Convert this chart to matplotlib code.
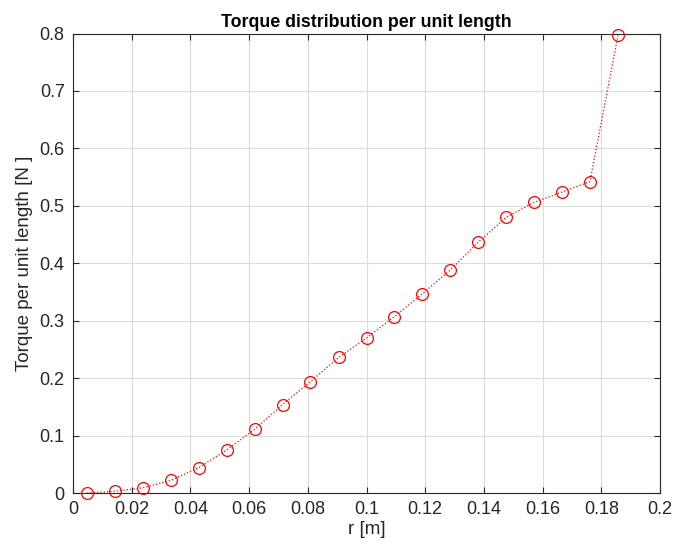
import numpy as np
import matplotlib
matplotlib.use('Agg')
import matplotlib.pyplot as plt

plt.rcParams['font.family'] = ['Liberation Sans', 'DejaVu Sans']

r = [0.0048, 0.0143, 0.0238, 0.0333, 0.0428, 0.0524, 0.0619, 0.0714, 0.0809, 0.0905,
     0.1000, 0.1095, 0.1190, 0.1285, 0.1381, 0.1476, 0.1571, 0.1666, 0.1761, 0.1857]
torque = [0.000, 0.003, 0.009, 0.022, 0.044, 0.075, 0.111, 0.154, 0.194, 0.236,
          0.270, 0.307, 0.347, 0.388, 0.437, 0.480, 0.506, 0.524, 0.542, 0.797]

xticks = np.arange(0, 0.201, 0.02)
yticks = np.arange(0, 0.801, 0.1)
xlabels = ['0', '0.02', '0.04', '0.06', '0.08', '0.1', '0.12', '0.14', '0.16', '0.18', '0.2']
ylabels = ['0', '0.1', '0.2', '0.3', '0.4', '0.5', '0.6', '0.7', '0.8']

fig = plt.figure(figsize=(6.78, 5.56), dpi=100)
ax = fig.add_axes([0.1077, 0.1133, 0.8658, 0.8264])

ax.plot(r, torque, linestyle=':', color='red', linewidth=0.9,
        marker='o', markersize=8.5, markerfacecolor='none', markeredgecolor='red',
        markeredgewidth=0.9, clip_on=False, zorder=3)

ax.set_xlim(0, 0.2)
ax.set_ylim(0, 0.8)
ax.set_xticks(xticks)
ax.set_xticklabels(xlabels)
ax.set_yticks(yticks)
ax.set_yticklabels(ylabels)
ax.grid(True, color='#dcdcdc', linewidth=0.8)
ax.set_axisbelow(True)

axis_col = '#262626'
for s in ax.spines.values():
    s.set_color(axis_col)
    s.set_linewidth(0.8)
ax.tick_params(direction='in', length=4, width=0.8, colors=axis_col,
               top=True, right=True, labelsize=13, pad=6)

ax.set_xlabel('r [m]', fontsize=13.5, color=axis_col, labelpad=2)
ax.set_ylabel('Torque per unit length [N ]', fontsize=13.5, color=axis_col, labelpad=5)
ax.set_title('Torque distribution per unit length', fontsize=12.8, fontweight='bold',
             color='black', pad=5)

fig.savefig('out.png', dpi=100)
